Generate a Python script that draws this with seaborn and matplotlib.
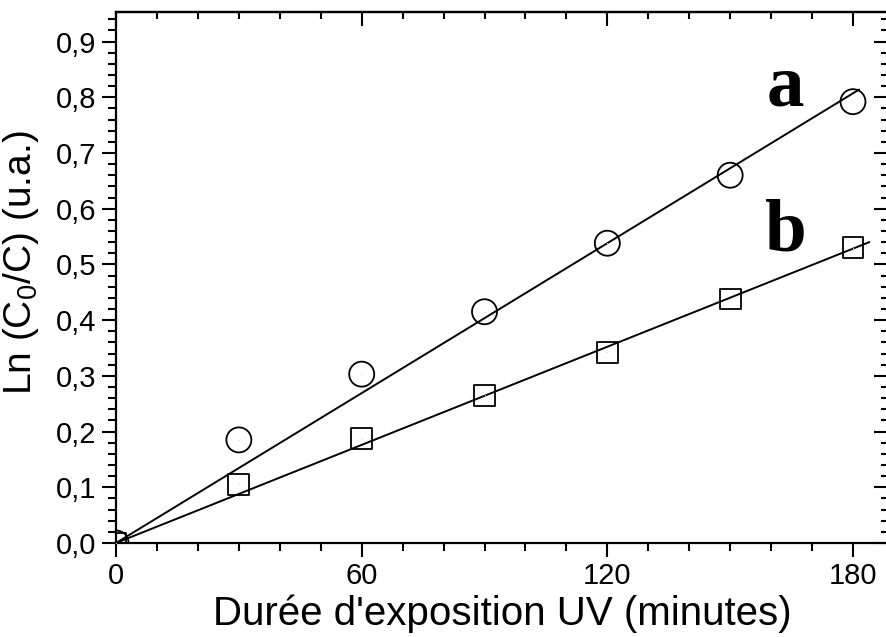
import numpy as np
import pandas as pd
import matplotlib
matplotlib.use("Agg")
import matplotlib.pyplot as plt
import seaborn as sns
from matplotlib.ticker import MultipleLocator, FuncFormatter

sns.set_theme(style="white")
plt.rcParams['font.family'] = ['Liberation Sans', 'DejaVu Sans']
plt.rcParams['mathtext.fontset'] = 'custom'
plt.rcParams['mathtext.rm'] = 'Liberation Sans'
for k in ("text.color", "axes.labelcolor", "xtick.color", "ytick.color", "axes.edgecolor"):
    plt.rcParams[k] = "black"

# Data
time_min = [0, 30, 60, 90, 120, 150, 180]
ln_a = [0.0, 0.185, 0.303, 0.415, 0.538, 0.660, 0.792]
ln_b = [0.0, 0.105, 0.187, 0.265, 0.342, 0.438, 0.530]
series_labels = ["a", "b"]
x_ticks = [0, 60, 120, 180]
y_ticks = [0.0, 0.1, 0.2, 0.3, 0.4, 0.5, 0.6, 0.7, 0.8, 0.9]

df = pd.DataFrame({"t": time_min * 2, "v": ln_a + ln_b,
                   "s": ["a"] * len(time_min) + ["b"] * len(time_min)})

fig = plt.figure(figsize=(8.86, 6.37), dpi=100)
ax = fig.add_axes([0.131, 0.1476, 0.871, 0.8336])

# linear fits through origin
line_end = {"a": 181.5, "b": 184.0}
fit_rows = []
for s, vals in zip(series_labels, [ln_a, ln_b]):
    x = np.array(time_min, float); y = np.array(vals, float)
    k = (x * y).sum() / (x * x).sum()
    for xx in (0.0, line_end[s]):
        fit_rows.append({"t": xx, "v": k * xx, "s": s})
fit = pd.DataFrame(fit_rows)
sns.lineplot(data=fit, x="t", y="v", units="s", estimator=None, color="black",
             lw=1.4, ax=ax, legend=False)

sns.scatterplot(data=df[df.s == "a"], x="t", y="v", marker="o", s=18**2,
                facecolor="none", edgecolor="black", linewidth=1.3, ax=ax, legend=False, zorder=3)
sns.scatterplot(data=df[df.s == "b"], x="t", y="v", marker="s", s=15**2,
                facecolor="none", edgecolor="black", linewidth=1.3, ax=ax, legend=False, zorder=3)
sns.scatterplot(data=df, x="t", y="v", marker=".", s=2, color="black",
                linewidth=0, ax=ax, legend=False, zorder=4)

ax.set_xlim(0, 188.5)
ax.set_ylim(0, 0.953)
ax.set_xticks(x_ticks)
ax.set_yticks(y_ticks)
ax.xaxis.set_minor_locator(MultipleLocator(10))
ax.yaxis.set_minor_locator(MultipleLocator(0.02))
ax.yaxis.set_major_formatter(FuncFormatter(lambda v, p: f"{v:.1f}".replace(".", ",")))
ax.tick_params(which="major", direction="out", length=10, width=1.5, labelsize=21,
               colors="black", bottom=True, left=True, top=False, right=False, pad=4)
ax.tick_params(which="minor", direction="out", length=6, width=1.5,
               bottom=True, left=True, top=False, right=False)
for sp in ax.spines.values():
    sp.set_linewidth(1.6)
    sp.set_color("black")

secx = ax.secondary_xaxis("top")
secx.set_xticks(x_ticks)
secx.xaxis.set_minor_locator(MultipleLocator(10))
secx.tick_params(which="major", direction="in", length=10, width=1.5, labeltop=False)
secx.tick_params(which="minor", direction="in", length=5, width=1.5)
secx.spines["top"].set_linewidth(1.6)
secy = ax.secondary_yaxis("right")
secy.set_yticks(y_ticks)
secy.yaxis.set_minor_locator(MultipleLocator(0.02))
secy.tick_params(which="major", direction="in", length=10, width=1.5, labelright=False)
secy.tick_params(which="minor", direction="in", length=5, width=1.5)
secy.spines["right"].set_linewidth(1.6)

ax.set_xlabel("Durée d'exposition UV (minutes)", fontsize=29, labelpad=3)
ax.set_ylabel(r"Ln (C$\mathregular{_0}$/C) (u.a.)", fontsize=28)
ax.yaxis.set_label_coords(-0.097, 0.528)

ax.text(163.5, 0.785, "a", fontsize=54, fontweight="bold", family="Liberation Serif",
        ha="center", va="baseline")
ax.text(163.5, 0.525, "b", fontsize=54, fontweight="bold", family="Liberation Serif",
        ha="center", va="baseline")

fig.savefig("out.png", dpi=100)
